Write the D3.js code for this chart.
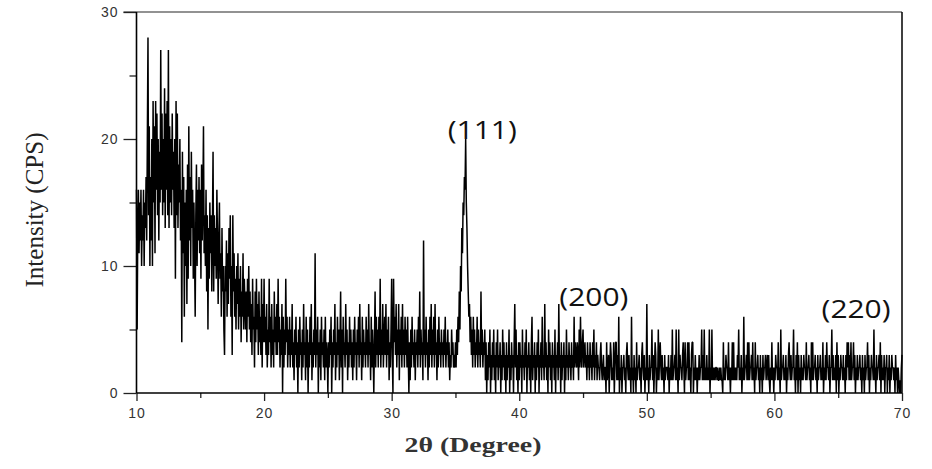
<!DOCTYPE html>
<html>
<head>
<meta charset="utf-8">
<script src="https://cdn.jsdelivr.net/npm/d3@7/dist/d3.min.js"></script>
<style>
  html, body { margin: 0; padding: 0; background: #fff; }
  svg { display: block; }
</style>
</head>
<body>
<svg id="chart" width="932" height="469"></svg>
<script>
// ---- data ----
const twoThetaStart = 10;    // degrees
const twoThetaStep = 0.05;   // degrees per sample (20 samples per row below)
const intensity = [
  16, 5, 13, 16, 11, 15, 12, 16, 10, 14, 12, 16, 10, 15, 13, 17, 12, 20, 28, 14,
  21, 10, 17, 12, 20, 10, 23, 15, 21, 11, 23, 16, 22, 14, 20, 12, 19, 15, 27, 16,
  22, 14, 20, 15, 24, 13, 22, 16, 23, 14, 27, 13, 21, 15, 20, 14, 22, 16, 19, 13,
  20, 9, 23, 14, 22, 13, 18, 15, 20, 12, 16, 4, 19, 11, 17, 6, 15, 10, 16, 7,
  18, 9, 21, 12, 17, 10, 19, 13, 16, 9, 15, 11, 6, 14, 18, 10, 16, 12, 17, 11,
  16, 9, 18, 12, 15, 21, 11, 14, 10, 16, 8, 14, 5, 13, 9, 15, 11, 14, 8, 13,
  19, 8, 14, 10, 13, 9, 16, 12, 7, 12, 15, 9, 11, 6, 13, 8, 10, 5, 3, 10,
  8, 12, 6, 11, 7, 13, 9, 14, 6, 10, 3, 14, 8, 11, 6, 9, 5, 10, 7, 11,
  5, 9, 6, 10, 4, 8, 6, 11, 5, 9, 7, 5, 8, 4, 9, 6, 10, 5, 8, 4,
  7, 3, 9, 5, 6, 2, 8, 4, 9, 5, 7, 3, 8, 4, 6, 3, 9, 2, 7, 4,
  9, 4, 6, 3, 7, 2, 5, 3, 9, 4, 6, 2, 7, 3, 5, 2, 8, 4, 6, 3,
  7, 3, 9, 4, 6, 2, 5, 3, 7, 0, 6, 2, 5, 3, 9, 4, 6, 2, 5, 3,
  6, 2, 5, 3, 7, 2, 4, 1, 5, 3, 6, 2, 4, 0, 5, 2, 6, 3, 4, 1,
  5, 2, 7, 3, 4, 1, 6, 2, 5, 0, 4, 2, 6, 3, 7, 1, 4, 2, 5, 3,
  11, 2, 5, 3, 6, 0, 4, 2, 5, 1, 6, 3, 4, 2, 5, 1, 6, 2, 4, 3,
  0, 4, 2, 5, 3, 6, 0, 4, 2, 5, 3, 7, 1, 4, 2, 6, 3, 5, 1, 4,
  8, 2, 5, 0, 6, 3, 4, 2, 7, 3, 5, 1, 4, 2, 6, 3, 5, 2, 4, 1,
  5, 2, 6, 3, 4, 1, 5, 3, 6, 2, 7, 3, 4, 1, 6, 2, 5, 3, 4, 2,
  6, 3, 5, 2, 7, 3, 4, 1, 6, 2, 5, 3, 0, 4, 8, 2, 6, 3, 5, 2,
  6, 3, 9, 2, 5, 3, 7, 2, 4, 6, 3, 7, 2, 5, 3, 6, 1, 4, 2, 5,
  9, 3, 0, 9, 4, 6, 3, 7, 2, 5, 3, 7, 1, 5, 3, 6, 2, 7, 3, 5,
  2, 6, 3, 5, 2, 6, 3, 0, 4, 1, 5, 2, 6, 3, 4, 2, 5, 1, 4, 3,
  5, 2, 6, 3, 8, 2, 5, 3, 4, 1, 12, 3, 5, 2, 6, 3, 4, 1, 5, 2,
  6, 3, 7, 2, 5, 3, 6, 2, 7, 3, 4, 1, 5, 2, 6, 3, 4, 2, 5, 3,
  4, 2, 5, 3, 6, 2, 4, 3, 5, 2, 4, 1, 3, 2, 5, 3, 4, 2, 3, 2,
  4, 2, 5, 3, 6, 4, 8, 5, 10, 8, 13, 11, 15, 14, 17, 16, 20, 15, 13, 10,
  8, 6, 7, 4, 6, 3, 5, 2, 6, 3, 5, 2, 4, 3, 6, 2, 5, 3, 4, 2,
  8, 3, 5, 2, 4, 3, 5, 1, 4, 0, 3, 1, 4, 2, 5, 0, 3, 1, 4, 2,
  5, 1, 3, 0, 4, 2, 5, 1, 3, 2, 4, 0, 3, 1, 5, 2, 4, 1, 3, 0,
  4, 1, 3, 2, 5, 0, 3, 1, 4, 2, 3, 0, 4, 7, 2, 5, 1, 3, 0, 4,
  1, 4, 2, 3, 0, 5, 2, 3, 1, 4, 2, 5, 0, 3, 2, 4, 1, 3, 0, 4,
  6, 1, 3, 2, 4, 0, 3, 1, 4, 2, 5, 0, 3, 2, 4, 1, 6, 2, 3, 1,
  7, 2, 4, 1, 3, 0, 5, 2, 4, 1, 3, 0, 4, 2, 3, 1, 5, 0, 3, 2,
  4, 1, 7, 2, 3, 0, 4, 1, 3, 2, 4, 0, 3, 1, 5, 2, 3, 1, 4, 2,
  3, 1, 4, 2, 3, 1, 6, 2, 4, 3, 2, 4, 3, 1, 5, 2, 6, 3, 2, 4,
  5, 2, 3, 4, 2, 3, 1, 4, 2, 3, 1, 4, 2, 3, 1, 4, 2, 5, 1, 3,
  2, 4, 1, 3, 2, 2, 1, 3, 4, 2, 1, 2, 3, 1, 2, 2, 0, 4, 1, 2,
  3, 0, 2, 4, 3, 1, 2, 1, 4, 0, 2, 4, 4, 1, 3, 1, 6, 0, 2, 1,
  3, 0, 2, 2, 3, 1, 2, 0, 3, 4, 2, 1, 3, 1, 2, 0, 6, 1, 2, 0,
  3, 1, 2, 0, 4, 1, 2, 2, 3, 1, 2, 0, 3, 4, 2, 1, 3, 0, 2, 1,
  7, 1, 2, 0, 3, 1, 2, 2, 5, 1, 3, 0, 2, 4, 3, 0, 2, 1, 5, 1,
  3, 4, 2, 1, 3, 1, 2, 0, 3, 1, 2, 2, 2, 1, 3, 0, 2, 1, 3, 1,
  5, 1, 2, 2, 3, 1, 5, 1, 2, 0, 5, 1, 3, 2, 2, 1, 3, 4, 2, 0,
  4, 1, 2, 2, 4, 1, 4, 1, 2, 0, 3, 4, 4, 0, 2, 1, 3, 1, 2, 0,
  2, 1, 3, 1, 2, 2, 5, 1, 3, 1, 5, 1, 2, 1, 3, 1, 2, 1, 5, 0,
  2, 1, 5, 1, 2, 1, 2, 1, 2, 2, 1, 2, 1, 1, 2, 1, 2, 1, 1, 0,
  4, 1, 2, 1, 3, 2, 2, 1, 4, 1, 2, 0, 2, 1, 4, 1, 4, 1, 2, 1,
  2, 1, 3, 2, 5, 1, 2, 1, 3, 0, 2, 1, 6, 1, 2, 2, 3, 1, 4, 1,
  4, 1, 2, 2, 3, 1, 4, 1, 2, 0, 4, 1, 2, 2, 3, 1, 2, 0, 3, 1,
  2, 0, 3, 1, 2, 2, 3, 1, 2, 3, 1, 3, 1, 0, 2, 1, 4, 1, 2, 0,
  2, 1, 3, 2, 2, 1, 4, 1, 2, 0, 5, 1, 2, 2, 3, 1, 2, 1, 3, 0,
  2, 1, 3, 4, 2, 1, 3, 1, 2, 2, 5, 1, 2, 0, 3, 1, 4, 0, 3, 1,
  2, 0, 3, 1, 2, 1, 3, 2, 2, 1, 4, 1, 2, 2, 3, 1, 2, 0, 4, 1,
  4, 1, 2, 2, 3, 1, 2, 0, 3, 1, 2, 2, 3, 1, 2, 1, 4, 0, 2, 1,
  3, 1, 4, 2, 2, 1, 3, 0, 2, 2, 5, 1, 3, 1, 2, 1, 3, 0, 4, 1,
  3, 0, 2, 1, 3, 2, 2, 1, 3, 1, 2, 0, 3, 1, 4, 2, 4, 1, 3, 1,
  4, 1, 2, 2, 4, 1, 3, 0, 2, 1, 3, 1, 2, 2, 3, 1, 2, 0, 3, 1,
  2, 0, 3, 1, 2, 2, 4, 1, 3, 0, 2, 1, 3, 2, 2, 1, 5, 1, 2, 0,
  3, 1, 2, 2, 3, 1, 4, 0, 3, 1, 2, 1, 3, 0, 2, 2, 3, 0, 2, 1,
  3, 0, 2, 1, 3, 2, 2, 1, 2, 0, 3, 1, 2, 0, 2, 1, 0, 1, 0, 2,
  3
];
const xTicksMajor = [10, 20, 30, 40, 50, 60, 70];
const xTicksMinor = [15, 25, 35, 45, 55, 65];
const yTicksMajor = [0, 10, 20, 30];
const yTicksMinor = [5, 15, 25];
const peakLabels = ["(111)", "(200)", "(220)"];
const peakLabelX = [37.1, 45.85, 66.4];    // 2θ of label centre
const peakLabelY = [20.0, 6.85, 5.9];      // intensity of label baseline
const xTitle = "2θ (Degree)";
const yTitle = "Intensity (CPS)";

// ---- layout ----
const svg = d3.select("#chart");
const L = 136.5, R = 902, T = 12, B = 393;
const x = d3.scaleLinear().domain([10, 70]).range([L, R]);
const y = d3.scaleLinear().domain([0, 30]).range([B, T]);

const points = intensity.map((v, i) => [twoThetaStart + i * twoThetaStep, v]);

// top border (grey) and right border
svg.append("line").attr("x1", L - 13).attr("x2", R).attr("y1", T).attr("y2", T)
  .attr("stroke", "#6e6e6e").attr("stroke-width", 1.3);
svg.append("line").attr("x1", R).attr("x2", R).attr("y1", T).attr("y2", B)
  .attr("stroke", "#000").attr("stroke-width", 1.5);

// data trace
const line = d3.line().x(d => x(d[0])).y(d => y(d[1]));
svg.append("path").datum(points).attr("d", line)
  .attr("fill", "none").attr("stroke", "#000").attr("stroke-width", 1.5)
  .attr("stroke-linejoin", "bevel");

// axes
const tickFont = "'Liberation Sans', Arial, sans-serif";
const xAxisMajor = d3.axisBottom(x).tickValues(xTicksMajor).tickSize(8).tickPadding(7).tickFormat(d3.format("d"));
const xAxisMinor = d3.axisBottom(x).tickValues(xTicksMinor).tickSize(5).tickFormat("");
const yAxisMajor = d3.axisLeft(y).tickValues(yTicksMajor).tickSize(13).tickPadding(5).tickFormat(d3.format("d"));
const yAxisMinor = d3.axisLeft(y).tickValues(yTicksMinor).tickSize(7).tickFormat("");

function styleAxis(g) {
  g.select(".domain").remove();
  g.selectAll(".tick line").attr("stroke", "#222").attr("stroke-width", 1.3);
  g.selectAll(".tick text").attr("fill", "#333").attr("font-size", 14)
    .attr("font-family", tickFont).attr("letter-spacing", "1px");
}
svg.append("g").attr("transform", `translate(0,${B})`).call(xAxisMajor).call(styleAxis);
svg.append("g").attr("transform", `translate(0,${B})`).call(xAxisMinor).call(styleAxis);
svg.append("g").attr("transform", `translate(${L},0)`).call(yAxisMajor).call(styleAxis);
svg.append("g").attr("transform", `translate(${L},0)`).call(yAxisMinor).call(styleAxis);

// axis lines
svg.append("line").attr("x1", L).attr("x2", L).attr("y1", T).attr("y2", B)
  .attr("stroke", "#000").attr("stroke-width", 1.6);
svg.append("line").attr("x1", L).attr("x2", R).attr("y1", B).attr("y2", B)
  .attr("stroke", "#000").attr("stroke-width", 1.6);

// axis titles
svg.append("text").text(xTitle)
  .attr("x", 473).attr("y", 452).attr("text-anchor", "middle")
  .attr("font-family", "'Liberation Serif', 'Times New Roman', serif")
  .attr("font-size", 21).attr("font-weight", "bold").attr("fill", "#333")
  .attr("textLength", 137).attr("lengthAdjust", "spacingAndGlyphs");

svg.append("text").text(yTitle)
  .attr("transform", "translate(43,210) rotate(-90)")
  .attr("text-anchor", "middle")
  .attr("font-family", "'Liberation Serif', 'Times New Roman', serif")
  .attr("font-size", 25).attr("fill", "#222")
  .attr("textLength", 155).attr("lengthAdjust", "spacingAndGlyphs");

// peak labels
svg.selectAll("text.peak").data(peakLabels).join("text")
  .attr("class", "peak")
  .attr("x", (d, i) => x(peakLabelX[i]))
  .attr("y", (d, i) => y(peakLabelY[i]))
  .attr("text-anchor", "middle")
  .attr("font-family", "'Open Sans', 'Noto Sans', sans-serif")
  .attr("font-size", 26).attr("fill", "#111")
  .attr("textLength", 69).attr("lengthAdjust", "spacingAndGlyphs")
  .text(d => d);
</script>
</body>
</html>
